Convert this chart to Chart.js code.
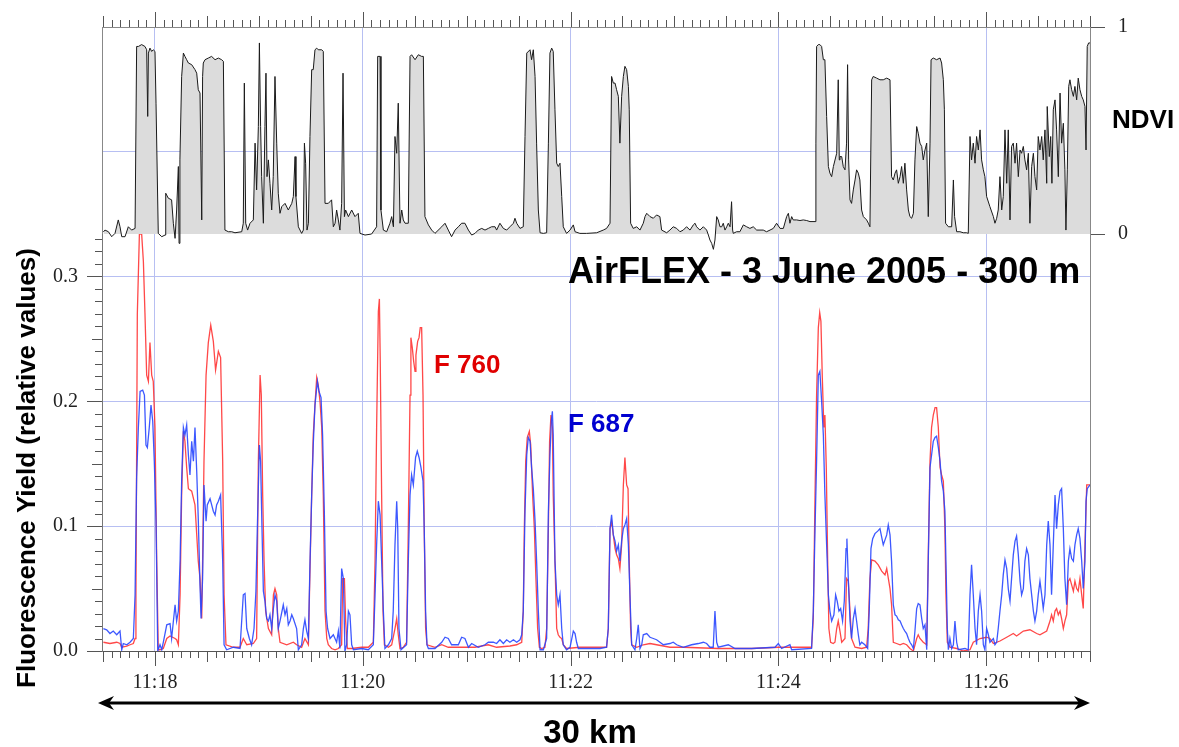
<!DOCTYPE html>
<html>
<head>
<meta charset="utf-8">
<script src="https://cdn.jsdelivr.net/npm/chart.js@4.4.1/dist/chart.umd.min.js"></script>
<style>
  html, body { margin: 0; padding: 0; background: #fff; }
  #wrap { position: relative; width: 1179px; height: 747px; }
  #wrap canvas { position: absolute; left: 0; top: 0; }
</style>
</head>
<body>
<div id="wrap">
  <canvas id="fluo" width="1179" height="747"></canvas>
  <canvas id="ndvi" width="1179" height="747"></canvas>
</div>
<script>
// time = seconds after 11:17:00
var majorTimes = [60, 180, 300, 420, 540];
var fyTicks = [0, 0.1, 0.2, 0.3];
var ndviTicks = [0, 0.4, 1];

var ndviPoints = [
  [30.2,.010],[31.1,.019],[33.1,.011],[35.0,-.013],[36.9,.003],[38.8,.068],[39.8,.035],[40.8,-.013],[42.7,-.013],[44.6,.035],[46.5,.019],[48.5,.027],
  [49.4,.906],[50.4,.906],[52.3,.915],[54.2,.906],[55.2,.890],[55.8,.568],[56.2,.874],[57.1,.898],[58.1,.882],[59.0,.890],[60.0,.882],[60.6,.632],
  [61.9,.003],[63.9,-.013],[65.8,-.005],[66.2,.197],[67.7,.173],[69.6,.165],[70.6,.052],[71.6,-.021],[72.5,.116],[73.5,.326],[73.9,-.045],[74.4,.358],
  [75.4,.761],[76.4,.874],[77.3,.858],[78.3,.842],[79.3,.826],[81.2,.818],[83.1,.794],[84.1,.777],[85.0,.697],[86.0,.681],[87.0,.068],[87.5,.761],
  [87.9,.826],[88.9,.842],[90.8,.850],[92.7,.858],[94.7,.842],[96.6,.850],[98.5,.842],[99.5,.834],[100.4,.019],[102.4,.011],[104.3,.011],[106.2,.006],
  [110.1,.011],[111.0,.052],[111.6,.729],[112.4,.052],[113.5,.019],[114.9,.052],[116.8,.068],[117.8,.439],[118.7,.213],[119.7,.519],[120.3,.923],
  [121.0,.519],[121.6,.277],[122.6,.052],[123.5,.519],[124.1,.777],[124.7,.277],[125.5,.358],[126.4,.245],[127.4,.116],[128.3,.277],[129.3,.761],
  [130.3,.439],[131.2,.197],[132.2,.100],[133.2,.132],[135.1,.148],[137.0,.116],[139.0,.148],[139.9,.181],[140.9,.374],[141.4,.181],[142.8,.035],
  [144.7,.003],[145.7,.019],[146.3,.439],[147.0,.342],[147.8,.019],[148.6,.052],[149.5,.471],[150.5,.794],[151.4,.794],[152.4,.890],[153.4,.898],
  [154.3,.890],[156.3,.890],[157.2,.882],[158.2,.148],[160.1,.148],[162.0,.165],[163.0,.035],[164.0,.052],[164.9,.116],[165.9,.068],[166.8,.019],
  [167.8,.148],[168.6,.777],[169.4,.084],[170.1,.116],[171.7,.084],[173.6,.116],[175.5,.084],[177.4,.100],[178.4,.003],[181.3,-.005],[185.1,.000],
  [188.0,.035],[188.6,.858],[190.0,.858],[190.5,.116],[191.9,.019],[193.8,.011],[195.7,.052],[196.7,.084],[197.7,.035],[198.6,.471],[199.6,.390],
  [200.5,.632],[201.5,.052],[202.5,.116],[203.4,.068],[204.4,.052],[206.3,.052],[207.3,.858],[208.2,.866],[210.2,.842],[212.1,.866],[214.0,.858],
  [215.0,.858],[215.9,.084],[217.9,.044],[219.8,.019],[221.7,.003],[225.6,.035],[227.5,.052],[229.4,.019],[231.3,-.013],[233.3,.019],[235.2,.035],
  [237.1,.052],[239.0,.052],[241.0,.019],[242.9,-.005],[244.8,.003],[246.7,.019],[248.7,.027],[250.6,.019],[252.5,.027],[254.4,.035],[256.4,.035],
  [257.3,.019],[259.2,.052],[261.2,.027],[263.1,.019],[265.0,.035],[267.0,.052],[267.9,.076],[268.9,.052],[270.8,.027],[272.7,.035],[273.7,.471],
  [274.7,.874],[276.6,.890],[277.5,.842],[278.5,.890],[279.5,.761],[280.4,.439],[281.4,.116],[282.4,.006],[284.3,.003],[286.2,.006],[287.2,.439],
  [288.1,.874],[289.1,.898],[290.0,.882],[291.0,.600],[292.0,.342],[292.9,.326],[293.9,.342],[294.9,.181],[295.8,.035],[297.7,.003],[299.7,.019],
  [301.6,.044],[302.6,.011],[305.4,.003],[309.3,.003],[315.1,.006],[318.9,.019],[320.8,.027],[322.8,.052],[323.7,.761],[324.7,.729],[325.7,.729],
  [326.6,.697],[327.6,.665],[328.5,.439],[329.5,.665],[330.5,.761],[331.4,.810],[332.4,.794],[333.4,.713],[333.9,.600],[334.7,.052],[336.2,.027],
  [338.2,.035],[340.1,.019],[342.0,.052],[343.0,.084],[344.0,.100],[345.9,.084],[347.8,.076],[349.7,.092],[351.6,.084],[352.6,.019],[355.5,.006],
  [357.4,.019],[359.3,.035],[361.3,.027],[363.2,.011],[365.1,.019],[367.0,.035],[369.0,.019],[370.9,.044],[371.9,.052],[372.8,.035],[374.7,.019],
  [376.7,.035],[378.6,.019],[379.6,-.005],[380.5,-.029],[381.5,-.045],[382.5,-.074],[383.4,-.029],[384.4,.084],[385.3,.068],[386.3,.035],[387.3,.035],
  [388.2,.052],[389.2,.019],[390.2,.035],[391.1,.052],[392.1,.035],[393.0,.156],[393.6,.019],[394.0,.003],[395.9,.011],[397.8,.011],[399.8,.044],
  [401.7,.035],[403.6,.027],[405.5,.035],[407.5,.019],[409.4,.019],[411.3,.019],[413.2,.011],[415.2,.019],[417.1,.027],[419.0,.052],[421.0,.027],
  [422.9,.027],[424.8,.084],[425.8,.100],[426.7,.052],[427.7,.084],[428.6,.068],[430.6,.068],[432.5,.065],[434.4,.068],[436.4,.065],[438.3,.060],
  [441.2,.060],[441.7,.439],[442.1,.906],[443.1,.915],[444.0,.915],[445.0,.906],[446.0,.842],[446.9,.842],[447.9,.568],[448.9,.326],[449.8,.294],
  [450.8,.277],[451.8,.326],[453.7,.390],[454.6,.745],[455.2,.358],[455.6,.374],[456.6,.374],[457.5,.326],[458.5,.310],[459.4,.439],[460.0,.818],
  [460.6,.358],[461.4,.165],[462.3,.148],[463.3,.213],[464.3,.261],[465.2,.310],[466.2,.294],[467.1,.261],[468.1,.116],[469.1,.084],[471.0,.068],
  [472.0,.052],[472.9,.035],[473.9,.745],[474.8,.761],[476.8,.753],[478.7,.745],[480.6,.745],[482.6,.753],[484.5,.745],
  [485.4,.277],[486.4,.261],[487.4,.294],[488.3,.310],[489.3,.245],[490.3,.277],[491.2,.326],[492.2,.245],[493.1,.342],[494.1,.213],[495.1,.116],
  [496.0,.084],[497.0,.076],[498.0,.100],[498.9,.358],[499.9,.519],[500.8,.487],[501.8,.439],[502.8,.423],[503.7,.358],[504.7,.406],[505.7,.439],
  [506.6,.084],[507.6,.439],[508.2,.842],[509.5,.850],[511.4,.842],[513.4,.850],[514.3,.826],[515.3,.745],[515.9,.600],[516.6,.052],[518.2,.035],
  [520.1,.035],[521.1,.261],[521.8,.084],[523.0,.011],[524.9,.011],[526.8,.006],[528.8,.006],[529.7,.003],[530.7,.471],[531.6,.358],[532.6,.439],
  [533.6,.342],[534.5,.471],[535.5,.406],[536.5,.503],[537.4,.358],[538.4,.310],[539.3,.277],[540.3,.181],[542.2,.132],[544.2,.084],[545.1,.052],
  [546.1,.076],[547.0,.116],[548.0,.277],[549.0,.116],[549.9,.181],[550.9,.503],[551.9,.245],[552.8,.503],[553.8,.068],[554.7,.423],[555.7,.439],
  [556.7,.342],[557.6,.439],[558.6,.277],[559.6,.406],[560.5,.390],[561.5,.423],[562.4,.358],[563.4,.310],[564.4,.390],[565.3,.052],[566.3,.326],
  [567.3,.390],[568.2,.277],[569.2,.213],[570.1,.471],[571.1,.406],[572.1,.471],[573.0,.358],[574.0,.503],[575.0,.245],[575.3,.616],[576.5,.374],
  [577.3,.471],[578.0,.245],[578.8,.600],[579.8,.648],[580.7,.503],[581.7,.277],[582.7,.681],[583.6,.439],[584.6,.535],[585.5,.310],[586.1,.019],
  [586.9,.310],[587.7,.713],[588.4,.745],[589.4,.697],[590.4,.665],[591.3,.713],[592.3,.648],[593.2,.753],[594.2,.697],[595.2,.665],[596.1,.648],
  [597.1,.616],[597.7,.406],[598.4,.906],[599.2,.923],[600.0,.923]
];

var f760Points = [
  [30.2,.007],[34.0,.006],[37.9,.007],[39.8,.006],[40.8,.003],[43.7,.004],[45.6,.005],[47.5,.006],[48.5,.010],[49.0,.045],[49.8,.270],[51.0,.334],
  [52.3,.334],[53.3,.312],[54.2,.271],[55.2,.221],[56.2,.216],[57.1,.247],[58.1,.221],[59.0,.216],[60.0,.179],[61.0,.072],[61.9,.001],[62.9,.001],
  [64.8,.002],[66.8,.010],[68.7,.012],[71.6,.010],[72.5,.009],[73.5,.005],[74.5,.045],[75.4,.125],[76.4,.176],[77.3,.168],[78.3,.147],[79.3,.130],
  [81.2,.128],[83.1,.117],[85.0,.072],[86.0,.058],[87.0,.026],[87.5,.072],[88.3,.152],[89.5,.221],[90.8,.247],[92.2,.261],[93.7,.248],[95.0,.225],
  [96.6,.240],[97.9,.235],[99.1,.152],[99.9,.045],[101.0,.005],[105.3,.003],[109.1,.003],[111.0,.010],[113.0,.005],[116.8,.006],[118.7,.010],
  [119.7,.152],[120.7,.221],[121.4,.205],[122.2,.125],[123.0,.072],[123.9,.032],[125.5,.018],[127.4,.013],[128.4,.045],[129.3,.050],[130.3,.045],
  [131.2,.018],[132.2,.007],[136.1,.005],[139.9,.007],[141.8,.005],[144.7,.003],[146.6,.010],[148.6,.005],[149.5,.064],[150.5,.125],[151.4,.173],
  [152.4,.197],[153.4,.219],[154.3,.213],[155.3,.200],[156.3,.179],[157.2,.125],[158.2,.032],[159.2,.010],[160.1,.005],[162.0,.002],[164.0,.001],
  [165.9,.002],[167.8,.005],[168.4,.058],[169.4,.058],[170.1,.024],[171.1,.002],[173.6,.002],[179.4,.003],[183.2,.003],[186.1,.007],[187.1,.072],
  [188.0,.179],[189.0,.272],[189.6,.282],[190.1,.232],[190.9,.125],[191.7,.032],[192.5,.005],[194.8,.003],[196.7,.005],[198.6,.018],[199.6,.026],
  [200.5,.013],[201.5,.002],[203.4,.003],[205.3,.007],[206.3,.098],[207.3,.205],[207.8,.251],[208.6,.243],[209.4,.232],[210.2,.224],[210.7,.237],
  [211.7,.248],[212.5,.251],[213.2,.259],[214.0,.259],[214.8,.205],[215.5,.098],[216.3,.018],[217.1,.005],[221.7,.003],[225.6,.005],[229.4,.003],
  [237.1,.003],[244.8,.003],[252.5,.005],[257.3,.003],[265.0,.004],[268.9,.005],[271.8,.007],[272.7,.032],[273.3,.098],[274.1,.152],[275.0,.171],
  [276.2,.176],[277.0,.165],[278.1,.125],[279.1,.098],[280.0,.058],[281.0,.018],[282.0,.003],[283.3,.002],[285.2,.003],[286.2,.018],[287.2,.098],
  [287.9,.168],[288.7,.189],[289.5,.179],[290.0,.125],[291.0,.072],[292.0,.018],[292.9,.013],[293.9,.011],[294.9,.010],[295.8,.005],[297.7,.002],
  [305.4,.003],[313.1,.003],[320.8,.003],[321.8,.018],[322.8,.098],[323.7,.104],[324.7,.093],[325.7,.082],[326.6,.077],[327.6,.074],[328.5,.066],
  [329.5,.085],[330.5,.133],[331.4,.155],[332.4,.133],[333.2,.130],[333.9,.072],[334.7,.018],[335.3,.005],[338.2,.003],[342.0,.005],[345.9,.006],
  [349.7,.005],[357.4,.003],[365.1,.003],[385.3,.002],[404.6,.002],[420.0,.003],[439.2,.003],[440.2,.026],[441.2,.125],[442.1,.205],[443.1,.259],
  [443.9,.271],[444.6,.264],[445.4,.219],[446.3,.179],[446.9,.189],[447.7,.147],[448.5,.072],[449.2,.018],[450.2,.007],[451.7,.006],[452.7,.007],
  [453.7,.018],[454.6,.024],[455.6,.016],[456.6,.007],[458.5,.010],[459.4,.058],[460.4,.056],[461.4,.032],[462.3,.010],[464.3,.003],[468.1,.002],
  [471.0,.003],[471.9,.018],[472.9,.058],[473.9,.073],[475.8,.072],[477.7,.069],[479.7,.064],[481.6,.061],[482.6,.066],[484.5,.050],[485.4,.037],
  [486.4,.007],[488.3,.006],[490.3,.005],[492.2,.006],[494.1,.005],[496.0,.002],[498.0,.000],[499.9,.010],[500.8,.013],[501.8,.010],[503.7,.007],
  [505.7,.005],[506.6,.077],[507.6,.152],[508.5,.179],[509.5,.189],[510.5,.195],[511.4,.195],[512.4,.179],[513.4,.147],[514.3,.141],[515.3,.136],
  [516.2,.098],[516.8,.045],[517.6,.007],[519.1,.003],[523.0,.002],[526.8,.000],[530.7,.001],[532.6,.007],[536.5,.010],[540.3,.011],[542.2,.010],
  [544.2,.006],[548.0,.008],[551.9,.011],[555.7,.014],[557.6,.012],[559.6,.014],[561.5,.016],[565.3,.017],[569.2,.014],[571.1,.013],[575.0,.016],
  [576.9,.024],[577.8,.029],[578.8,.024],[579.8,.032],[580.7,.034],[581.7,.029],[582.7,.032],[583.6,.026],[584.6,.018],[585.5,.024],[586.5,.029],
  [587.5,.056],[588.4,.058],[589.4,.053],[590.4,.048],[591.3,.056],[592.3,.050],[593.2,.048],[594.2,.058],[595.2,.045],[596.1,.034],[597.1,.085],
  [598.1,.133],[600.0,.133]
];

var f687Points = [
  [30.2,.018],[32.1,.017],[34.0,.014],[35.9,.016],[37.9,.013],[39.8,.016],[40.8,.001],[41.7,.006],[43.7,.005],[45.6,.007],[47.5,.010],[48.5,.045],
  [49.4,.139],[50.4,.179],[51.4,.208],[52.9,.209],[53.9,.205],[54.8,.165],[55.6,.163],[56.7,.179],[57.7,.197],[58.7,.184],[59.6,.152],[60.6,.104],
  [61.6,.000],[62.9,.005],[63.9,.001],[64.8,.007],[66.8,.021],[68.7,.022],[69.6,.010],[71.6,.037],[72.5,.024],[73.5,.032],[74.5,.072],[75.4,.136],
  [76.4,.179],[77.3,.173],[78.3,.181],[79.3,.157],[80.2,.141],[81.2,.168],[82.2,.152],[83.1,.179],[84.1,.144],[85.0,.106],[86.0,.053],[86.6,.026],
  [87.5,.058],[88.3,.133],[89.5,.104],[90.2,.117],[91.8,.122],[93.7,.112],[94.7,.109],[95.6,.117],[96.6,.120],[97.9,.125],[99.1,.072],[99.9,.005],
  [101.4,.001],[105.3,.003],[109.1,.002],[111.0,.045],[112.0,.046],[113.0,.018],[114.5,.010],[115.8,.005],[117.2,.018],[118.3,.048],[119.1,.098],
  [120.3,.165],[121.0,.152],[121.8,.098],[122.6,.048],[123.5,.040],[124.5,.026],[125.5,.024],[126.4,.029],[127.4,.018],[128.4,.034],[129.3,.045],
  [130.3,.040],[131.2,.018],[132.2,.024],[134.1,.037],[135.1,.029],[136.1,.034],[137.0,.021],[138.0,.024],[139.0,.029],[139.9,.026],[141.8,.018],
  [142.8,.001],[144.7,.005],[145.7,.018],[146.6,.025],[147.6,.016],[148.6,.010],[149.5,.069],[150.5,.125],[151.4,.165],[152.4,.197],[153.8,.216],
  [154.7,.208],[155.9,.203],[156.8,.173],[157.8,.112],[158.8,.032],[159.7,.018],[161.1,.010],[163.0,.013],[164.9,.007],[165.9,.016],[166.8,.002],
  [167.8,.066],[168.8,.058],[169.7,.000],[170.7,.005],[171.7,.032],[172.6,.029],[173.6,.005],[174.6,.001],[179.4,.002],[183.2,.001],[186.1,.005],
  [187.1,.045],[188.0,.085],[189.0,.120],[190.0,.109],[190.9,.072],[191.9,.032],[192.8,.002],[194.8,.005],[196.7,.010],[197.6,.032],[198.6,.085],
  [199.6,.120],[200.2,.098],[200.9,.018],[202.1,.001],[205.3,.005],[206.3,.072],[207.3,.125],[208.2,.141],[209.2,.133],[210.5,.155],[211.5,.160],
  [212.5,.155],[213.6,.147],[214.8,.136],[215.5,.098],[216.3,.032],[217.1,.005],[217.9,.002],[221.7,.002],[225.6,.007],[227.5,.011],[229.4,.010],
  [231.3,.005],[235.2,.005],[237.1,.011],[239.0,.010],[241.0,.003],[242.9,.006],[246.7,.003],[250.6,.005],[252.5,.007],[255.4,.007],[257.3,.006],
  [259.2,.009],[261.2,.006],[263.1,.009],[265.0,.007],[267.0,.009],[268.9,.007],[270.8,.009],[271.8,.013],[272.7,.032],[273.7,.112],[274.7,.157],
  [275.6,.171],[276.6,.168],[277.5,.147],[278.5,.130],[279.5,.104],[280.4,.072],[281.4,.032],[282.4,.001],[284.3,.001],[286.2,.010],[287.2,.112],
  [288.1,.157],[288.9,.184],[289.5,.192],[290.0,.173],[291.0,.072],[292.0,.045],[292.9,.037],[293.9,.045],[294.9,.018],[295.8,.005],[297.7,.001],
  [299.7,.003],[301.6,.016],[302.6,.014],[303.5,.007],[304.5,.002],[313.1,.002],[317.0,.002],[320.8,.003],[321.8,.018],[322.8,.098],[323.7,.109],
  [324.7,.093],[325.7,.088],[326.6,.080],[327.6,.085],[328.5,.072],[329.5,.088],[330.5,.098],[331.4,.101],[332.4,.106],[333.4,.085],[334.3,.045],
  [335.3,.005],[337.2,.001],[338.2,.010],[339.1,.021],[340.1,.002],[341.1,.005],[342.0,.013],[344.0,.014],[345.9,.011],[347.8,.010],[349.7,.009],
  [353.6,.005],[357.4,.006],[359.3,.007],[361.3,.005],[365.1,.003],[369.9,.005],[373.8,.006],[376.7,.007],[378.6,.006],[380.5,.003],[382.4,.003],
  [383.4,.032],[384.4,.007],[385.3,.003],[391.1,.005],[395.0,.002],[404.6,.002],[418.1,.003],[420.0,.006],[421.9,.002],[426.7,.005],[427.7,.001],
  [439.2,.002],[440.2,.032],[441.2,.098],[442.1,.152],[443.1,.221],[444.0,.224],[445.0,.200],[446.0,.173],[446.9,.125],[447.9,.085],[448.9,.045],
  [449.8,.032],[450.8,.024],[452.1,.029],[453.1,.045],[454.0,.040],[455.0,.032],[456.0,.034],[457.1,.024],[458.1,.040],[459.1,.082],[459.6,.090],
  [460.4,.058],[461.4,.024],[462.3,.010],[463.3,.026],[464.3,.034],[465.2,.024],[466.2,.013],[467.1,.005],[468.1,.007],[470.0,.005],[471.6,.002],
  [472.5,.032],[473.5,.082],[474.5,.090],[475.8,.094],[477.4,.096],[478.7,.098],[480.6,.085],[482.6,.093],[483.5,.101],[484.5,.093],[485.4,.072],
  [486.4,.037],[487.4,.029],[488.3,.028],[489.3,.025],[490.3,.024],[491.2,.021],[492.2,.018],[493.1,.016],[494.1,.014],[495.1,.010],[496.0,.007],
  [497.0,.005],[498.0,.002],[498.9,.016],[499.9,.034],[500.8,.038],[501.8,.037],[502.8,.026],[503.7,.018],[504.7,.021],[505.7,.001],[506.6,.072],
  [507.6,.147],[508.5,.157],[509.5,.168],[510.5,.171],[511.4,.172],[512.4,.163],[513.4,.152],[514.3,.136],[515.3,.128],[516.2,.112],[516.8,.072],
  [517.6,.018],[518.2,.001],[519.1,.010],[520.1,.002],[521.1,.005],[522.0,.024],[523.0,.007],[523.9,.001],[527.8,.002],[529.7,.001],[530.7,.045],
  [531.6,.069],[532.6,.045],[533.6,.018],[534.5,.005],[535.5,.032],[536.5,.045],[537.4,.032],[538.4,.005],[539.3,.001],[540.3,.018],[541.3,.013],
  [542.2,.007],[544.2,.010],[545.1,.005],[546.1,.007],[547.0,.018],[548.0,.032],[549.0,.045],[549.9,.061],[550.9,.073],[551.9,.066],[552.8,.050],
  [553.8,.040],[554.7,.058],[555.7,.077],[556.7,.088],[557.6,.092],[558.6,.077],[559.6,.056],[560.5,.045],[561.5,.050],[562.4,.072],[563.4,.082],
  [564.4,.077],[565.3,.058],[566.3,.045],[567.3,.032],[568.2,.024],[569.2,.032],[570.1,.045],[571.1,.056],[572.1,.045],[573.0,.034],[574.0,.045],
  [575.0,.085],[575.9,.104],[576.9,.085],[577.8,.045],[578.8,.085],[579.8,.125],[580.7,.098],[581.7,.117],[582.7,.128],[583.6,.130],[584.6,.098],
  [585.5,.058],[586.5,.037],[587.5,.072],[588.4,.082],[589.4,.074],[590.4,.072],[591.3,.085],[592.3,.093],[593.2,.098],[594.2,.090],[595.2,.072],
  [596.1,.050],[597.1,.072],[597.7,.120],[598.4,.130],[600.0,.133]
];

var gridColor = '#b7bff2';
var serif = { family: "'Liberation Serif', 'Times New Roman', serif", size: 20 };
var sansBold = "bold {s}px 'Liberation Sans', Arial, sans-serif";
function bold(s) { return sansBold.replace('{s}', s); }
function toXY(arr) { return arr.map(function (p) { return { x: p[0], y: p[1] }; }); }
function setTicks(list) { return function (s) { s.ticks = list.map(function (v) { return { value: v }; }); }; }

// tick marks, frames and free text
var decor = {
    id: 'decor',
    afterDraw: function (chart, args, o) {
        var ctx = chart.ctx, a = chart.chartArea, xs = chart.scales.x, ys = chart.scales.y;
        ctx.save();
        ctx.strokeStyle = '#555';
        ctx.lineWidth = 1;
        ctx.beginPath();
        for (var t = 30; t <= 600; t += 5) {
            var px = Math.round(xs.getPixelForValue(t)) + 0.5;
            var len = (t % 120 === 60) ? 15 : (t % 30 === 0 ? 11 : 7);
            if (o.side === 'top') { ctx.moveTo(px, a.top); ctx.lineTo(px, a.top - len); }
            else { ctx.moveTo(px, a.bottom); ctx.lineTo(px, a.bottom + len); }
        }
        ctx.stroke();

        if (o.side === 'top') {
            ctx.strokeStyle = '#888';
            ctx.beginPath();
            ctx.moveTo(a.left + 0.5, a.top); ctx.lineTo(a.left + 0.5, a.bottom);
            ctx.stroke();
            ctx.fillStyle = '#000';
            ctx.font = bold(26);
            ctx.textBaseline = 'alphabetic';
            ctx.fillText('NDVI', 1112, 128);
        } else {
            ctx.strokeStyle = '#888';
            ctx.beginPath();
            ctx.moveTo(a.right + 0.5, a.top); ctx.lineTo(a.right + 0.5, a.bottom);
            ctx.stroke();
            ctx.strokeStyle = '#555';
            ctx.beginPath();
            for (var k = 0; k <= 33; k++) {
                var py = Math.round(ys.getPixelForValue(k / 100)) + 0.5;
                var l = (k % 10 === 0) ? 15 : (k % 5 === 0 ? 10 : 7);
                ctx.moveTo(a.left, py); ctx.lineTo(a.left - l, py);
            }
            ctx.stroke();

            ctx.textBaseline = 'alphabetic';
            ctx.fillStyle = '#000';
            ctx.font = bold(36);
            ctx.fillText('AirFLEX - 3 June 2005 - 300 m', 568, 283);
            ctx.font = bold(26);
            ctx.fillStyle = '#e00000';
            ctx.fillText('F 760', 434, 373);
            ctx.fillStyle = '#0000d0';
            ctx.fillText('F 687', 568, 432);

            ctx.fillStyle = '#000';
            ctx.save();
            ctx.translate(35, 468);
            ctx.rotate(-Math.PI / 2);
            ctx.textAlign = 'center';
            ctx.fillText('Fluorescence Yield (relative values)', 0, 0);
            ctx.restore();

            // 30 km arrow
            var y0 = 703, xl = a.left - 4, xr = a.right;
            ctx.strokeStyle = '#000';
            ctx.lineWidth = 3;
            ctx.beginPath();
            ctx.moveTo(xl + 8, y0); ctx.lineTo(xr - 8, y0);
            ctx.stroke();
            ctx.beginPath();
            ctx.moveTo(xl, y0); ctx.lineTo(xl + 16, y0 - 7); ctx.lineTo(xl + 11, y0); ctx.lineTo(xl + 16, y0 + 7); ctx.closePath();
            ctx.moveTo(xr, y0); ctx.lineTo(xr - 16, y0 - 7); ctx.lineTo(xr - 11, y0); ctx.lineTo(xr - 16, y0 + 7); ctx.closePath();
            ctx.fill();
            ctx.font = bold(33);
            ctx.textAlign = 'center';
            ctx.fillText('30 km', 590, 743);
        }
        ctx.restore();
    }
};

var fluoChart = new Chart(document.getElementById('fluo'), {
    type: 'line',
    data: {
        datasets: [{
            data: toXY(f687Points),
            borderColor: 'rgba(40,70,255,0.9)',
            borderWidth: 1.3,
            pointRadius: 0
        }, {
            data: toXY(f760Points),
            borderColor: 'rgba(255,40,40,0.85)',
            borderWidth: 1.3,
            pointRadius: 0
        }]
    },
    options: {
        responsive: false,
        animation: false,
        events: [],
        layout: { padding: { left: 0, right: 89, top: 234, bottom: 0 } },
        plugins: { legend: { display: false }, tooltip: { enabled: false }, decor: { side: 'bottom' } },
        scales: {
            x: {
                type: 'linear', position: 'bottom', min: 29.4, max: 600,
                afterBuildTicks: setTicks(majorTimes),
                afterFit: function (s) { s.height = 96; },
                ticks: { padding: 20, font: serif, color: '#222', maxRotation: 0, autoSkip: false,
                    callback: function (v) { return '11:' + (17 + v / 60); } },
                grid: { color: gridColor, drawTicks: false },
                border: { color: '#555' }
            },
            y: {
                position: 'left', min: 0, max: 0.334,
                afterBuildTicks: setTicks(fyTicks),
                afterFit: function (s) { s.width = 102; },
                ticks: { padding: 24, font: serif, color: '#222', callback: function (v) { return v.toFixed(1); } },
                grid: { color: function (c) { return c.tick && c.tick.value === 0 ? 'rgba(0,0,0,0)' : gridColor; }, drawTicks: false },
                border: { color: '#777' }
            }
        }
    },
    plugins: [decor]
});

var ndviChart = new Chart(document.getElementById('ndvi'), {
    type: 'line',
    data: {
        datasets: [{
            data: toXY(ndviPoints),
            borderColor: '#1a1a1a',
            borderWidth: 1,
            pointRadius: 0,
            clip: false,
            fill: { target: 'origin', above: '#dcdcdc', below: 'rgba(0,0,0,0)' }
        }]
    },
    options: {
        responsive: false,
        animation: false,
        events: [],
        layout: { padding: { left: 102, right: 0, top: 0, bottom: 513 } },
        plugins: { legend: { display: false }, tooltip: { enabled: false }, decor: { side: 'top' } },
        scales: {
            x: {
                type: 'linear', position: 'top', min: 29.4, max: 600,
                afterBuildTicks: setTicks(majorTimes),
                afterFit: function (s) { s.height = 27; },
                ticks: { display: false },
                grid: { color: gridColor, drawTicks: false },
                border: { color: '#888' }
            },
            y: {
                position: 'right', min: 0, max: 1,
                afterBuildTicks: setTicks(ndviTicks),
                afterFit: function (s) { s.width = 89; },
                ticks: { padding: 13, font: serif, color: '#222',
                    callback: function (v) { return (v === 0 || v === 1) ? String(v) : ''; } },
                grid: {
                    color: function (c) { return c.tick && c.tick.value === 0.4 ? gridColor : 'rgba(0,0,0,0)'; },
                    tickColor: function (c) { return c.tick && c.tick.value === 0.4 ? 'rgba(0,0,0,0)' : '#555'; },
                    drawTicks: true, tickLength: 15
                },
                border: { color: '#888' }
            }
        }
    },
    plugins: [decor]
});
</script>
</body>
</html>
